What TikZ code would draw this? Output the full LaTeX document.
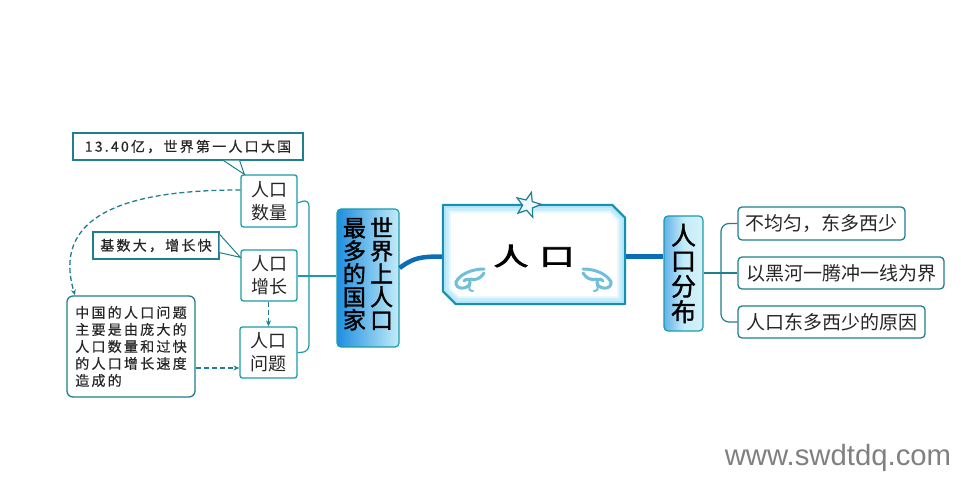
\documentclass[tikz,border=0pt]{standalone}
\usepackage{graphicx}
\usepackage{fontspec}
\setmainfont{Noto Sans CJK SC}
\newfontfamily\cjksp[LetterSpace=16,FakeBold=0.5]{Noto Sans CJK SC}
\newfontfamily\cjkbold[FakeBold=1.5]{Noto Sans CJK SC}
\newfontfamily\cjkhead[FakeBold=3]{Noto Sans CJK SC}
\newfontfamily\webfont{Liberation Sans}
\usetikzlibrary{shapes.geometric,shapes.misc,arrows.meta,calc}
\definecolor{teal1}{HTML}{1A9CA8}
\definecolor{teal2}{HTML}{1F7F8C}
\definecolor{deep}{HTML}{0B6DB5}
\definecolor{swirl}{HTML}{6FBFDA}
\definecolor{coreline}{HTML}{1590B0}
\definecolor{barleft}{HTML}{1E8FE0}
\definecolor{barright}{HTML}{C4ECF8}
\newcommand{\swirlshape}{%
  \draw[swirlline] (484,269) .. controls (472,269) and (460,274) .. (456,282) .. controls (455,290) and (468,290) .. (470,283) .. controls (471,279) and (466,278) .. (464,281);
  \draw[swirlline] (470,279) .. controls (476,281) and (481,278) .. (484,273);
  \draw[swirlline,line width=2pt] (470,285) .. controls (468,289) and (470,291) .. (473,291);
}
\tikzset{
  x=1pt,y=-1pt,
  topicbox/.style={draw=teal1,line width=1.3pt,fill=white,rounded corners=2.5pt,inner sep=0pt,align=center,text=black!85,font=\fontsize{18}{23}\selectfont},
  notebox/.style={draw=teal2,line width=1.3pt,fill=white,rounded corners=4pt,inner sep=0pt,text=black!85,font=\fontsize{19}{19}\selectfont},
  smallnote/.style={draw=teal2,line width=1.3pt,fill=white,inner sep=0pt,text=black!85,font=\cjksp\fontsize{14}{17}\selectfont},
  bluebar/.style={draw=teal1,line width=1.2pt,rounded corners=4pt,inner sep=0pt,text=black,align=center},
  wire/.style={draw=teal1,line width=1.2pt},
  thickwire/.style={draw=deep,line width=4.5pt},
  dashwire/.style={draw=teal2,line width=1.3pt,dash pattern=on 5pt off 3pt,-{Stealth[length=6pt,width=5pt]}},
  swirlline/.style={draw=swirl,line width=3pt,line cap=round},
}
\begin{document}
\begin{tikzpicture}
\useasboundingbox (0,0) rectangle (980,502);
\node[minimum width=182pt,minimum height=99pt,inner sep=0pt] (core) at (534,254.5) {};
\node[bluebar,minimum width=62pt,minimum height=138pt,left color=barleft,right color=barright,font=\cjkbold\fontsize{23}{23}\selectfont] (world) at (368,278)
  {\raisebox{-5pt}{\setlength{\tabcolsep}{2.1pt}\begin{tabular}{cc}\smash{最}&\smash{世}\\\smash{多}&\smash{界}\\\smash{的}&\smash{上}\\\smash{国}&\smash{人}\\\smash{家}&\smash{口}\end{tabular}}};
\node[bluebar,minimum width=39pt,minimum height=115pt,left color=barleft!70,right color=barright!70,middle color=barright,font=\cjkbold\fontsize{25}{25.5}\selectfont] (dist) at (683.5,273.5) {人\\口\\分\\布};

\node[topicbox,minimum width=56pt,minimum height=52pt] (num) at (269,201) {人口\\数量};
\node[topicbox,minimum width=56pt,minimum height=51pt] (grow) at (269,275.5) {人口\\增长};
\node[topicbox,minimum width=57pt,minimum height=51pt] (prob) at (268.5,352.5) {人口\\问题};

\node[notebox,minimum width=167pt,minimum height=33pt] (uneven) at (821.5,223.5) {不均匀，东多西少};
\node[notebox,minimum width=206pt,minimum height=32pt] (line) at (841,273) {以黑河一腾冲一线为界};
\node[notebox,minimum width=187pt,minimum height=32pt] (cause) at (831.5,322) {人口东多西少的原因};

\node[smallnote,minimum width=230pt,minimum height=27pt] (fact) at (188,146.5) {13.40亿，世界第一人口大国};
\node[smallnote,minimum width=126pt,minimum height=27pt] (base) at (156,245.5) {基数大，增长快};
\node[smallnote,rounded corners=6pt,minimum width=128pt,minimum height=101pt,align=left] (china) at (131,346.5)
  {中国的人口问题\\主要是由庞大的\\人口数量和过快\\的人口增长速度\\造成的};

% callout wedges
\coordinate (factL) at ($(fact.south east)+(-80,0)$);
\coordinate (factR) at ($(fact.south east)+(-63,0)$);
\draw[draw=teal2,line width=1pt,fill=white] (factL) -- ([xshift=4pt]num.north west) -- ([xshift=-1pt]factR);
\coordinate (baseT) at ($(base.north east)+(0,3)$);
\coordinate (baseB) at ($(base.south east)+(0,-7)$);
\draw[draw=teal2,line width=1pt,fill=white] (baseT) -- ([yshift=-8pt]grow.north west) -- (baseB);

% tree wires
\draw[wire] ([yshift=-0.5pt]grow.east) -- ([yshift=2pt]world.west);
\draw[wire,rounded corners=7pt] ([yshift=-2pt]num.east) -- (309,199) -- (309,352) -- (prob.east);
\draw[wire,draw=teal2] (dist.east |- line.west) -- (line.west);
\draw[wire,draw=teal2,rounded corners=8pt] (uneven.west) -- (721,223.5) -- (721,322) -- (cause.west);

% thick wires
\coordinate (worldOut) at ($(world.east)+(0,-10)$);
\draw[thickwire] (worldOut) .. controls (413,258) and (420,256.5) .. ([yshift=-2pt]core.west);
\draw[thickwire,line width=5pt] ([yshift=-2pt]core.east) -- ([yshift=-2pt]core.east -| dist.west);

% dashed wires
\draw[dashwire] ([yshift=11pt]num.west) .. controls (150,190) and (48,205) .. (china.north west -| 75,0);
\draw[dashwire] (grow.south -| prob.north) -- (prob.north);
\draw[dashwire] ([yshift=-21.5pt]china.east) -- ([yshift=-15.5pt]prob.west);

% central title block
\foreach \inset/\col in {0/cyan!32,3/cyan!22,6/cyan!10,8/white}{
  \fill[\col] ($(core.north west)+(\inset,\inset)$) -- ($(core.north east)+(-13-\inset*0.4,\inset)$) -- ($(core.north east)+(-\inset,13+\inset*0.4)$)
   -- ($(core.south east)+(-\inset,-\inset)$) -- ($(core.south west)+(13+\inset*0.4,-\inset)$) -- ($(core.south west)+(\inset,-13-\inset*0.4)$) -- cycle;
}
\draw[draw=coreline,line width=2pt,line join=round] (core.north west) -- ($(core.north east)+(-13,0)$) -- ($(core.north east)+(0,13)$)
   -- (core.south east) -- ($(core.south west)+(13,0)$) -- ($(core.south west)+(0,-13)$) -- cycle;
\node[font=\cjkhead\fontsize{35}{35}\selectfont,inner sep=0pt] (title) at (534,256) {\scalebox{1}[0.7]{人\hspace{11pt}口}};
\node[star,star points=5,star point ratio=2.4,draw=teal2,line width=1.2pt,fill=cyan!6,minimum size=26pt,inner sep=0pt,rotate=-15] (spark) at (528,205) {};

% swirl ornaments
\swirlshape
\begin{scope}[xshift=1067pt,xscale=-1]
\swirlshape
\end{scope}

\node[font=\webfont\fontsize{29.3}{29.3}\selectfont,text=black!50,inner sep=0pt] (web) at (838,458) {www.swdtdq.com};
\end{tikzpicture}
\end{document}
